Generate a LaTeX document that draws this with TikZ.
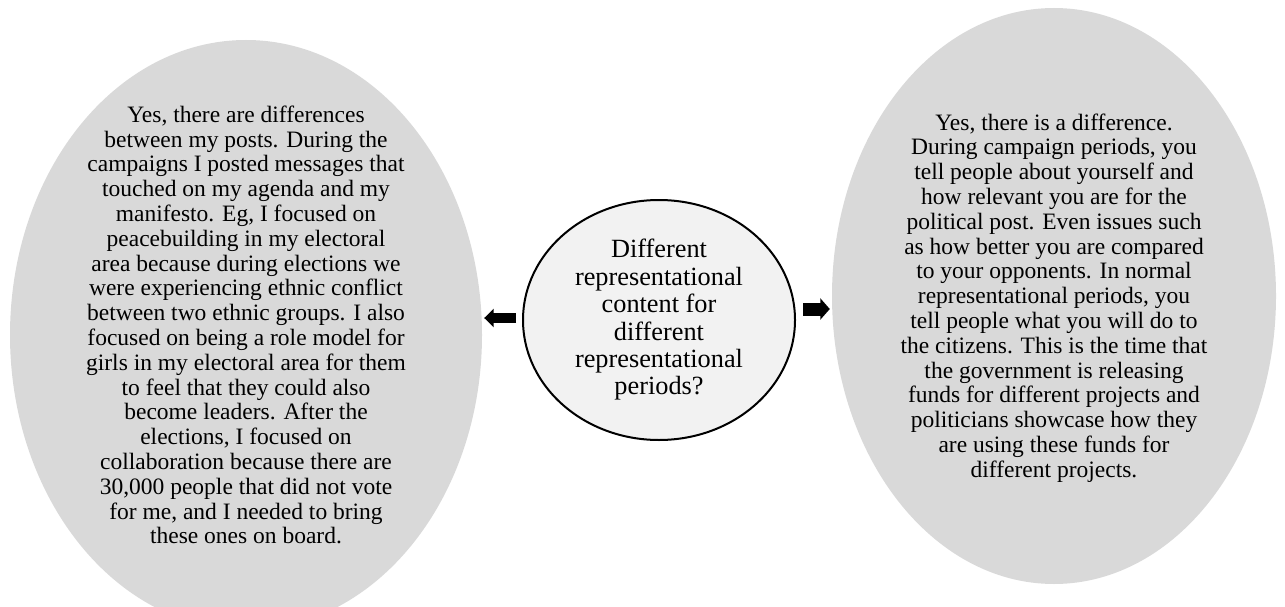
\documentclass[tikz,border=0pt]{standalone}
\usepackage{fontspec}
\setmainfont{Liberation Serif}
\usetikzlibrary{shapes.geometric,arrows.meta}
\definecolor{bubblegrey}{HTML}{D9D9D9}
\definecolor{corefill}{HTML}{F2F2F2}
\tikzset{
  bubble/.style={ellipse, fill=bubblegrey, draw=none, inner sep=0pt},
  bubbletext/.style={align=center, inner sep=0pt,
    font=\fontsize{23.5}{24.8}\selectfont},
  core/.style={ellipse, fill=corefill, draw=black, line width=2pt, inner sep=0pt,
    align=center, font=\fontsize{26.3}{27.4}\selectfont},
  blockarrow/.style={line width=#1, -{Triangle[length=9.5pt, width=#1+8pt]}},
}
\begin{document}
\begin{tikzpicture}[x=1pt, y=-1pt]
  \useasboundingbox (0,0) rectangle (1285,607);
  \clip (0,0) rectangle (1285,607);

  % left answer bubble
  \node[bubble, minimum width=472pt, minimum height=590pt] (left) at (246,335) {};
  \node[bubbletext] (lefttext) at (246,325) {Yes, there are differences\\
    between my posts. During the\\
    campaigns I posted messages that\\
    touched on my agenda and my\\
    manifesto. Eg, I focused on\\
    peacebuilding in my electoral\\
    area because during elections we\\
    were experiencing ethnic conflict\\
    between two ethnic groups. I also\\
    focused on being a role model for\\
    girls in my electoral area for them\\
    to feel that they could also\\
    become leaders. After the\\
    elections, I focused on\\
    collaboration because there are\\
    30,000 people that did not vote\\
    for me, and I needed to bring\\
    these ones on board.};

  % right answer bubble
  \node[bubble, minimum width=444pt, minimum height=576pt] (right) at (1054,296) {};
  \node[bubbletext] (righttext) at (1054,298) {Yes, there is a difference.\\
    During campaign periods, you\\
    tell people about yourself and\\
    how relevant you are for the\\
    political post. Even issues such\\
    as how better you are compared\\
    to your opponents. In normal\\
    representational periods, you\\
    tell people what you will do to\\
    the citizens. This is the time that\\
    the government is releasing\\
    funds for different projects and\\
    politicians showcase how they\\
    are using these funds for\\
    different projects.};

  % central question
  \node[core, minimum width=272pt, minimum height=240pt] (mid) at (659,320)
    {Different\\ representational\\ content for\\ different\\ representational\\ periods?};

  % block arrows from the question to the answers
  \draw[blockarrow=10pt, shorten >=2pt]
    ([xshift=-6pt, yshift=2pt]mid.west) -- ([yshift=2pt]mid.west -| left.east);
  \draw[blockarrow=13pt, shorten >=2pt]
    ([xshift=7pt, yshift=11pt]mid.east) -- ([yshift=11pt]mid.east -| right.west);
\end{tikzpicture}
\end{document}
